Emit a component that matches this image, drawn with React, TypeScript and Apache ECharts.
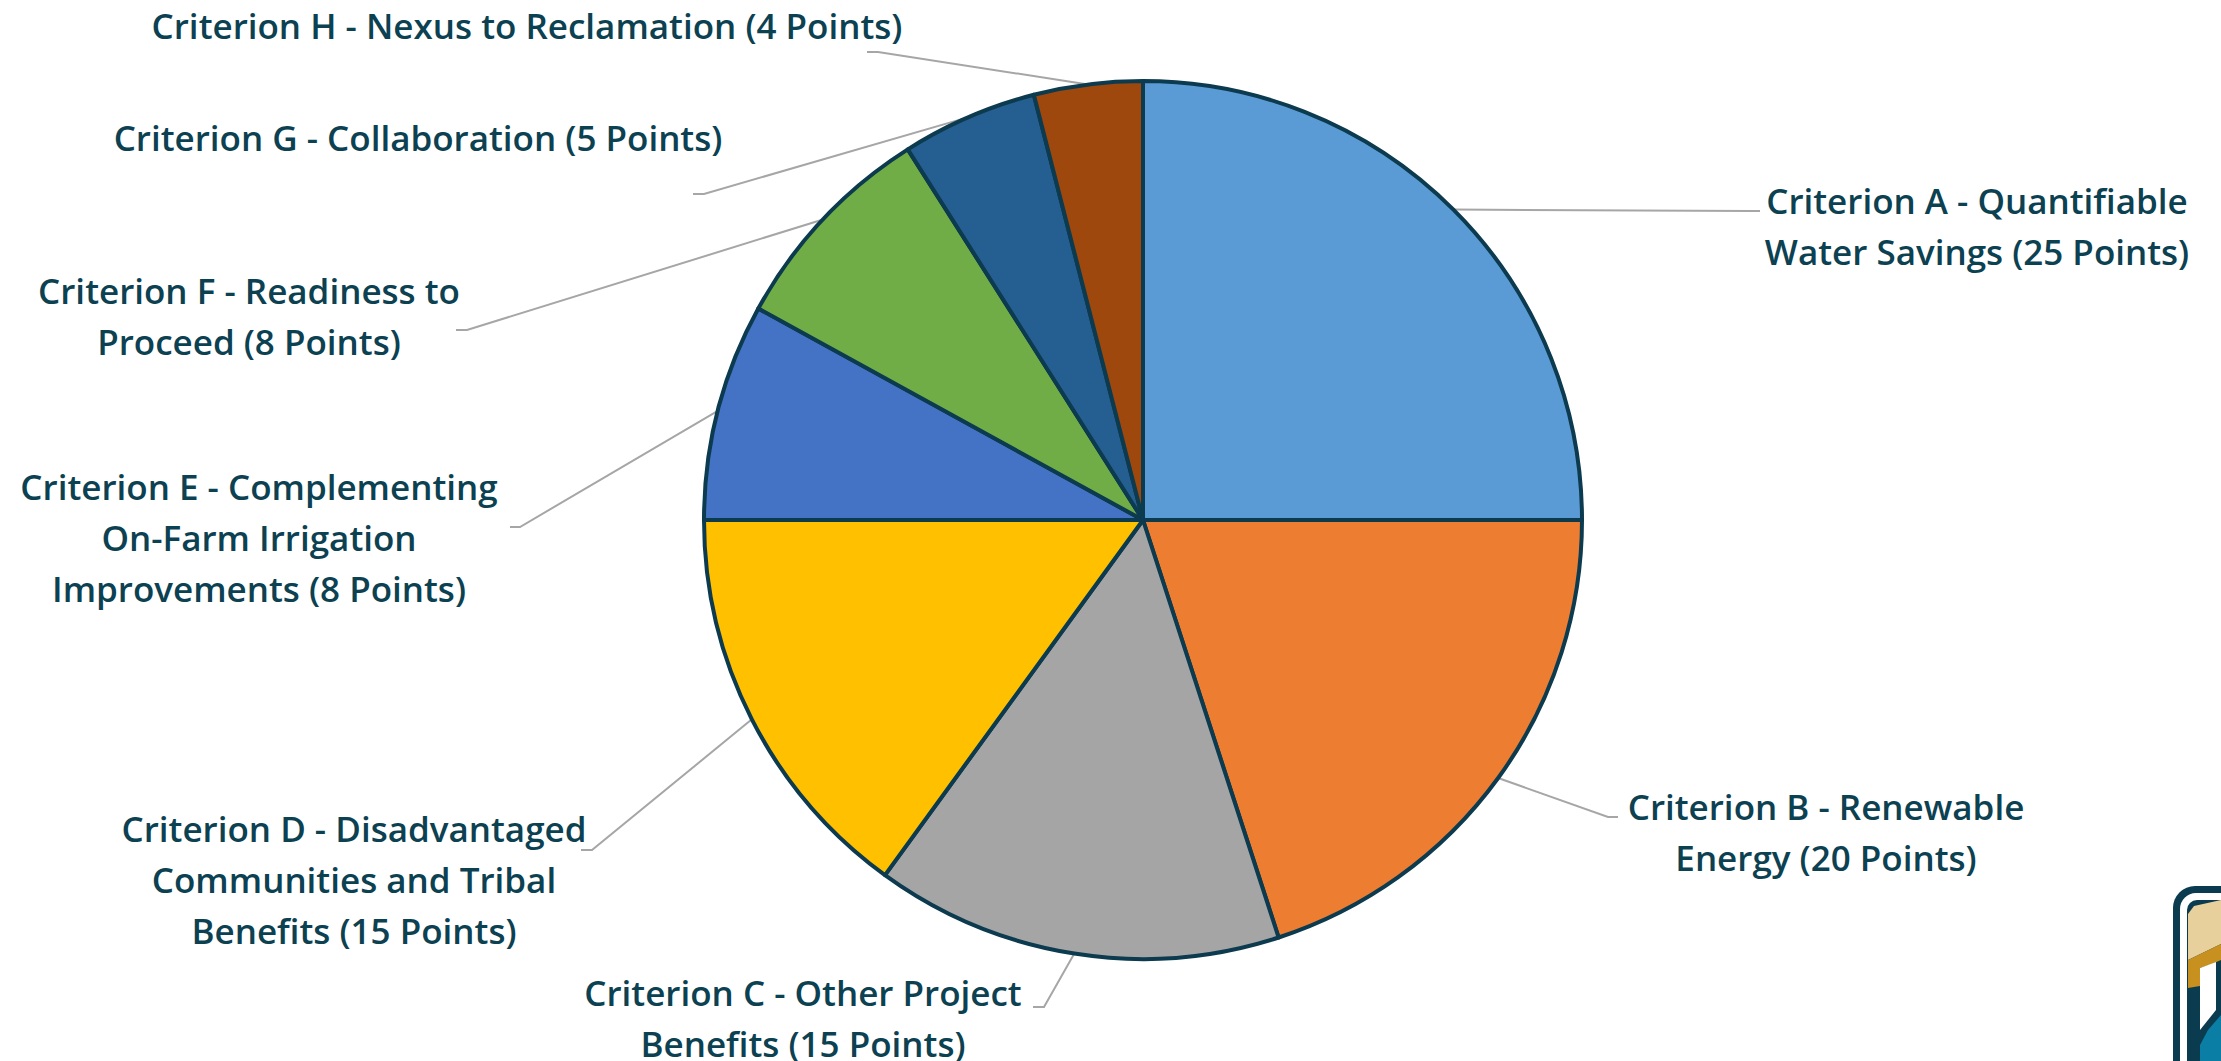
import React, { useEffect, useRef } from "react";
import * as echarts from "echarts";

const categories = [
  "Criterion A - Quantifiable\nWater Savings (25 Points)",
  "Criterion B - Renewable\nEnergy (20 Points)",
  "Criterion C - Other Project\nBenefits (15 Points)",
  "Criterion D - Disadvantaged\nCommunities and Tribal\nBenefits (15 Points)",
  "Criterion E - Complementing\nOn-Farm Irrigation\nImprovements (8 Points)",
  "Criterion F - Readiness to\nProceed (8 Points)",
  "Criterion G - Collaboration (5 Points)",
  "Criterion H - Nexus to Reclamation (4 Points)",
];
const values = [25, 20, 15, 15, 8, 8, 5, 4];
const colors = ["#5B9BD5", "#ED7D31", "#A5A5A5", "#FFC000", "#4472C4", "#70AD47", "#255E91", "#9E480E"];

// label anchor (text center) and leader-line elbow/end positions (layout only)
const labelAnchors = [
  [1977, 226], [1826, 832], [803, 1018], [354, 879], [259, 537], [249, 316], [418, 137], [527, 25],
];
const lineElbows = [
  [[1750, 211], [1760, 211]],
  [[1608, 817], [1618, 817]],
  [[1044, 1007], [1033, 1007]],
  [[592, 850], [581, 850]],
  [[520, 527], [510, 527]],
  [[467, 330], [456, 330]],
  [[704, 194], [693, 194]],
  [[878, 52], [867, 52]],
];

const CX = 1143;
const CY = 520;
const R = 439;

export default function App() {
  const ref = useRef<HTMLDivElement>(null);
  useEffect(() => {
    document.body.style.margin = "0";
    const chart = echarts.init(ref.current!, null, { renderer: "svg" });
    chart.setOption({
      animation: false,
      backgroundColor: "#ffffff",
      series: [
        {
          type: "pie",
          center: [CX, CY],
          radius: R,
          startAngle: 90,
          clockwise: true,
          avoidLabelOverlap: false,
          itemStyle: { borderColor: "#0C3A4E", borderWidth: 4 },
          label: {
            show: true,
            color: "#0C4152",
            fontFamily: "Open Sans",
            fontWeight: 600,
            fontSize: 35,
            lineHeight: 51,
            align: "center",
          },
          labelLine: {
            show: true,
            length: 20,
            length2: 10,
            lineStyle: { color: "#A6A6A6", width: 2 },
          },
          labelLayout: (p: any) => {
            const i = p.dataIndex;
            const a = labelAnchors[i];
            const start = p.labelLinePoints && p.labelLinePoints[0];
            const pts = [start ? [start[0], start[1]] : [CX, CY], ...lineElbows[i]];
            return {
              x: a[0],
              y: a[1],
              align: "center",
              verticalAlign: "middle",
              labelLinePoints: pts,
            };
          },
          data: categories.map((name, i) => ({
            name,
            value: values[i],
            itemStyle: { color: colors[i] },
          })),
        },
      ],
      graphic: [
        {
          type: "group",
          children: [
            { type: "rect", shape: { x: 2173, y: 886, width: 80, height: 200, r: 22 }, style: { fill: "#0B3B4F" } },
            { type: "rect", shape: { x: 2180, y: 893, width: 80, height: 200, r: 16 }, style: { fill: "#ffffff" } },
            { type: "rect", shape: { x: 2187, y: 900, width: 80, height: 200, r: 10 }, style: { fill: "#0B3B4F" } },
            { type: "polygon", shape: { points: [[2188, 914], [2194, 906], [2221, 900], [2221, 944], [2188, 960]] }, style: { fill: "#E8D09C" } },
            { type: "polygon", shape: { points: [[2188, 960], [2221, 944], [2221, 960], [2212, 964], [2200, 968], [2200, 986], [2188, 988]] }, style: { fill: "#C8901E" } },
            { type: "polygon", shape: { points: [[2200, 968], [2216, 962], [2216, 1010], [2200, 1030]] }, style: { fill: "#ffffff" } },
            { type: "polygon", shape: { points: [[2208, 1030], [2221, 1015], [2221, 1061], [2200, 1061], [2200, 1045]] }, style: { fill: "#0A7EA4" } },
          ],
        },
      ],
    });
    return () => chart.dispose();
  }, []);
  return <div ref={ref} style={{ width: 2221, height: 1061 }} />;
}
